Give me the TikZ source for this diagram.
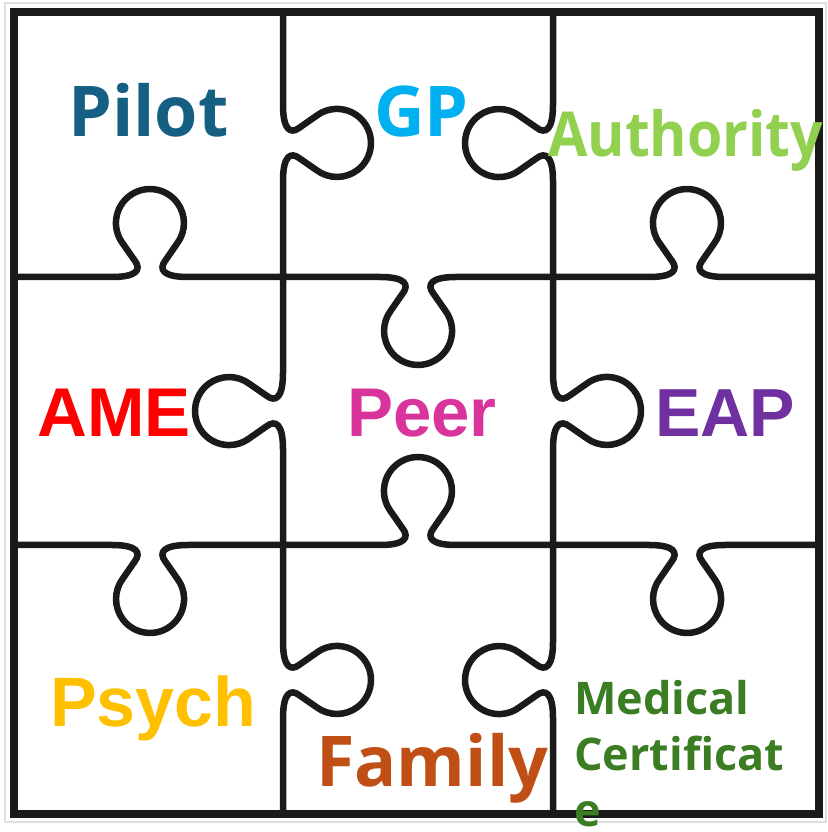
\documentclass[tikz,border=0pt]{standalone}
\usepackage{fontspec}
\setmainfont{Liberation Sans}
\newfontfamily\osans{Open Sans}
\definecolor{pilotc}{HTML}{156082}
\definecolor{gpc}{HTML}{00B0F0}
\definecolor{authc}{HTML}{92D050}
\definecolor{amec}{HTML}{FF0000}
\definecolor{peerc}{HTML}{D9339C}
\definecolor{eapc}{HTML}{7030A0}
\definecolor{psychc}{HTML}{FFC000}
\definecolor{famc}{HTML}{C04F15}
\definecolor{medc}{HTML}{3A7D22}
\definecolor{inkc}{HTML}{1A1A1A}
\tikzset{
  puz/.style={draw=inkc, line width=6.5pt, line join=round, line cap=round},
  frame/.style={draw=inkc, line width=8pt},
  lbl/.style={inner sep=0pt, anchor=base west, font=\bfseries}
}
% #1 center, #2 rotation, #3 extent before tab, #4 extent after tab
\newcommand{\puzseg}[4]{%
  \begin{scope}[shift={#1}, rotate=#2]
    \draw[puz] (-#3,0) -- (-38,0) .. controls (-12,0) and (-9,8) .. (-15,16)
      -- (-27.2,33.5) arc[start angle=217, end angle=-37, radius=34]
      -- (15,16) .. controls (9,8) and (12,0) .. (38,0) -- (#4,0);
  \end{scope}}
\begin{document}
\begin{tikzpicture}[x=1pt,y=1pt]
\useasboundingbox (0,0) rectangle (827,832);
\fill[white] (0,0) rectangle (827,832);
\draw[gray!25, line width=2pt] (5,829) rectangle (826,10);
% vertical x=283
\puzseg{(283,689)}{-90}{131}{134}
\puzseg{(283,421)}{90}{134}{134}
\puzseg{(283,152)}{-90}{135}{134}
% vertical x=553
\puzseg{(553,689)}{90}{134}{131}
\puzseg{(553,421)}{-90}{134}{134}
\puzseg{(553,152)}{90}{134}{135}
% horizontal Y=555
\puzseg{(150,555)}{0}{136}{133}
\puzseg{(418,555)}{180}{135}{135}
\puzseg{(687,555)}{0}{134}{132}
% horizontal Y=287
\puzseg{(150,287)}{180}{133}{136}
\puzseg{(418,287)}{0}{135}{135}
\puzseg{(687,287)}{180}{132}{134}
% outer frame
\draw[frame] (14,820) rectangle (819,18);
% labels
\node[lbl, text=pilotc, font=\osans\bfseries\fontsize{70}{84}\selectfont] (pilot) at (68,695) {Pilot};
\node[lbl, text=gpc, font=\osans\bfseries\fontsize{70}{84}\selectfont] (gp) at (374,695) {GP};
\node[lbl, text=authc, font=\osans\bfseries\fontsize{62}{74}\selectfont, xscale=0.92] (auth) at (548,675) {Authority};
\node[lbl, text=amec, font=\bfseries\fontsize{69}{83}\selectfont] (ame) at (37,395) {AME};
\node[lbl, text=peerc, font=\bfseries\fontsize{69}{83}\selectfont] (peer) at (347,395) {Peer};
\node[lbl, text=eapc, font=\bfseries\fontsize{68}{82}\selectfont] (eap) at (655,395) {EAP};
\node[lbl, text=psychc, font=\bfseries\fontsize{70}{84}\selectfont] (psych) at (50,105) {Psych};
\node[lbl, text=famc, font=\osans\bfseries\fontsize{70}{84}\selectfont] (fam) at (316,45) {Family};
\node[lbl, text=medc, font=\osans\bfseries\fontsize{45}{56}\selectfont, align=left, anchor=north west] (med) at (574,152) {Medical\\Certificat\\e};
\end{tikzpicture}
\end{document}
